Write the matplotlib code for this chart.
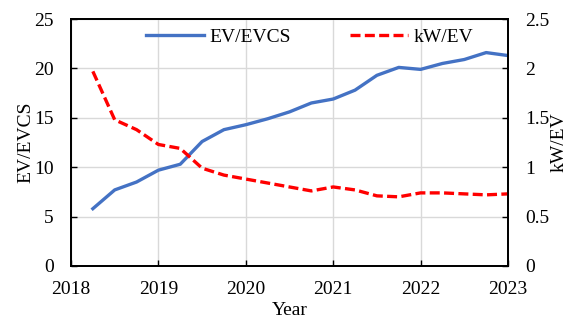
import matplotlib
matplotlib.use("Agg")
import matplotlib.pyplot as plt
import numpy as np

plt.rcParams['font.family'] = ['Liberation Serif', 'DejaVu Serif']

quarters = [2018.25, 2018.5, 2018.75, 2019.0, 2019.25, 2019.5, 2019.75, 2020.0,
            2020.25, 2020.5, 2020.75, 2021.0, 2021.25, 2021.5, 2021.75, 2022.0,
            2022.25, 2022.5, 2022.75, 2023.0]
ev_per_evcs = [5.8, 7.7, 8.5, 9.7, 10.3, 12.6, 13.8, 14.3, 14.9, 15.6, 16.5, 16.9,
               17.8, 19.3, 20.1, 19.9, 20.5, 20.9, 21.6, 21.3]
kw_per_ev = [1.97, 1.48, 1.38, 1.23, 1.19, 0.99, 0.92, 0.88, 0.84, 0.80, 0.76, 0.80,
             0.77, 0.71, 0.70, 0.74, 0.74, 0.73, 0.72, 0.73]
year_ticks = [2018, 2019, 2020, 2021, 2022, 2023]

FS = 14
fig = plt.figure(figsize=(5.82, 3.24), dpi=100)
ax = fig.add_axes([71/582, 58/324, 437/582, 247/324])
ax2 = ax.twinx()

l1, = ax.plot(quarters, ev_per_evcs, color='#4472C4', lw=2.4, label='EV/EVCS')
l2, = ax2.plot(quarters, kw_per_ev, color='#FF0000', lw=2.4, dashes=(3.0, 1.3), label='kW/EV')

ax.set_xlim(2018, 2023)
ax.set_ylim(0, 25)
ax2.set_ylim(0, 2.5)
ax.set_xticks(year_ticks)
ax.set_yticks(np.arange(0, 26, 5))
ax2.set_yticks([0, 0.5, 1, 1.5, 2, 2.5])
ax2.set_yticklabels(['0', '0.5', '1', '1.5', '2', '2.5'])

ax.grid(True, color='#D9D9D9', lw=1.0)
ax.set_axisbelow(True)
for a in (ax, ax2):
    for s in a.spines.values():
        s.set_linewidth(1.3)
        s.set_color('black')
    a.tick_params(direction='in', labelsize=FS, length=4, width=1)
ax.tick_params(axis='x', pad=11)
ax.tick_params(axis='y', pad=12.5)
ax2.tick_params(axis='y', pad=12.5)

ax.set_xlabel('Year', fontsize=FS, labelpad=3)
ax.set_ylabel('EV/EVCS', fontsize=FS, labelpad=0)
ax2.set_ylabel('kW/EV', fontsize=FS, labelpad=1)

ax2.legend([l1, l2], ['EV/EVCS', 'kW/EV'], loc='center', ncol=2, frameon=False,
           fontsize=FS, columnspacing=3.0, handlelength=3.0, handletextpad=0.3,
           bbox_to_anchor=(0.546, (266 - 37) / 247))

fig.savefig('out.png', dpi=100)
